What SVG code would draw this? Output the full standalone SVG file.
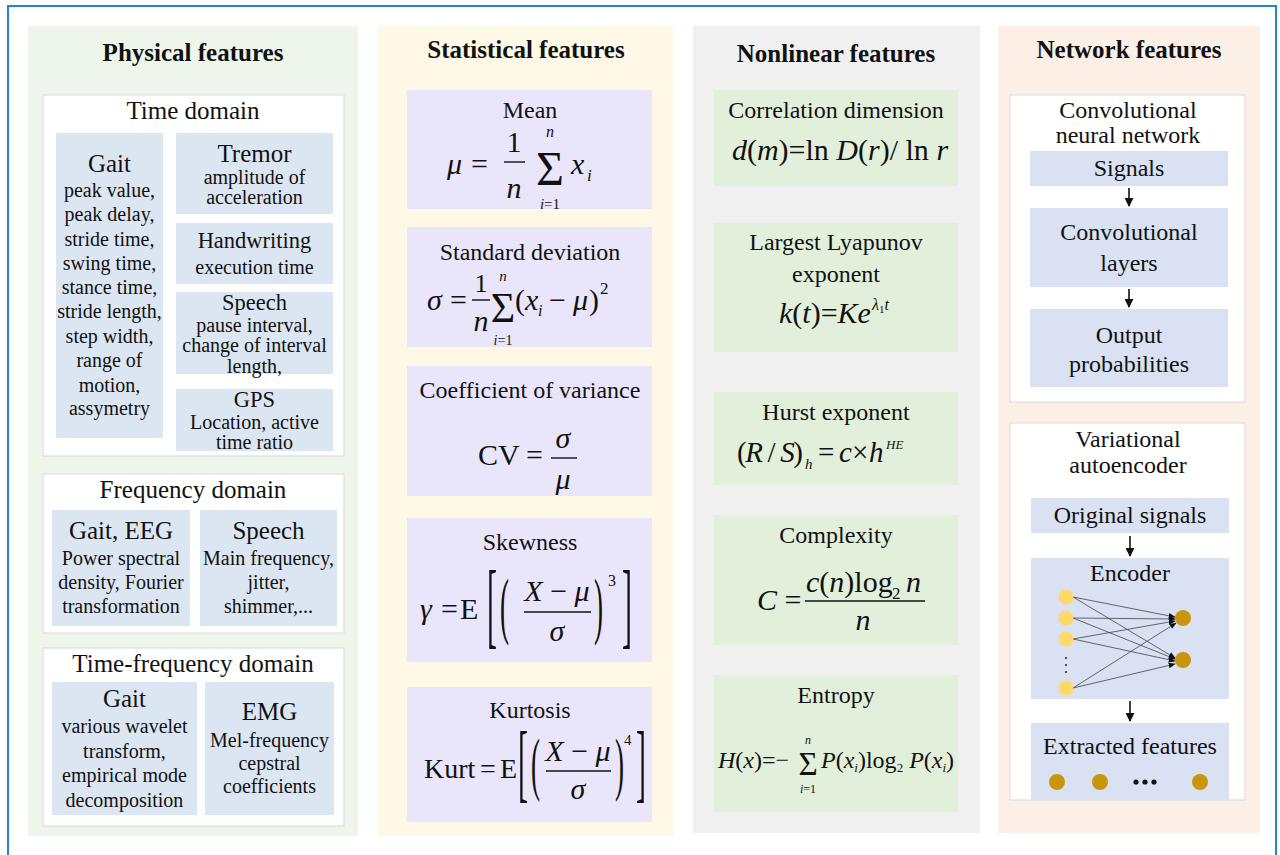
<svg xmlns="http://www.w3.org/2000/svg" width="1280" height="855" viewBox="0 0 1280 855">
<defs>
<style>
text{font-family:"Liberation Serif","Times New Roman",serif;fill:#111}
.t{font-size:25px;font-weight:bold;text-anchor:middle}
.h{font-size:25px;text-anchor:middle}
.s{font-size:22.5px;text-anchor:middle}
.b{font-size:20px;text-anchor:middle}
.l{font-size:24px;text-anchor:middle}
.m{font-size:30px}
.i{font-style:italic}
.wb{fill:#fff;stroke:#dedede;stroke-width:1.2}
.pb{fill:#dce6f2}
.sb{fill:#e9e5fb}
.nb{fill:#e2efda}
.kb{fill:#d9e1f2}
.bar{stroke:#111;stroke-width:1.4}
.ar{stroke:#111;stroke-width:1.6;fill:none}
.el{stroke:#444;stroke-width:0.8;fill:none}
.yn{fill:#ffd966}
.gn{fill:#c8960a}
</style>
<marker id="ah" viewBox="0 0 10 10" refX="9" refY="5" markerWidth="9" markerHeight="9" markerUnits="userSpaceOnUse" orient="auto"><path d="M0,0 L10,5 L0,10 z" fill="#111"/></marker>
<marker id="ah2" viewBox="0 0 10 10" refX="9" refY="5" markerWidth="7" markerHeight="7" markerUnits="userSpaceOnUse" orient="auto"><path d="M0,1 L10,5 L0,9 z" fill="#111"/></marker>
</defs>
<rect x="0" y="0" width="1280" height="855" fill="#fff"/>
<rect x="8" y="6" width="1268" height="880" fill="none" stroke="#1f8ac6" stroke-width="2"/>

<!-- Physical features -->
<g id="physical">
<rect x="28" y="26" width="330" height="810" fill="#eef5ea"/>
<text class="t" x="193" y="61">Physical features</text>
<g id="time-domain">
<rect class="wb" x="43" y="95" width="301" height="361"/>
<text class="h" x="193" y="119">Time domain</text>
<g id="td-gait">
<rect class="pb" x="56" y="133" width="107" height="305"/>
<text class="h" x="109.5" y="172">Gait</text>
<text class="b" x="109.5" y="197">peak value,</text>
<text class="b" x="109.5" y="221">peak delay,</text>
<text class="b" x="109.5" y="246">stride time,</text>
<text class="b" x="109.5" y="270">swing time,</text>
<text class="b" x="109.5" y="294">stance time,</text>
<text class="b" x="109.5" y="318">stride length,</text>
<text class="b" x="109.5" y="343">step width,</text>
<text class="b" x="109.5" y="367">range of</text>
<text class="b" x="109.5" y="392">motion,</text>
<text class="b" x="109.5" y="415">assymetry</text>
</g>
<g id="td-tremor">
<rect class="pb" x="176" y="133" width="157" height="81"/>
<text class="h" x="254.5" y="162">Tremor</text>
<text class="b" x="254.5" y="184">amplitude of</text>
<text class="b" x="254.5" y="204">acceleration</text>
</g>
<g id="td-handwriting">
<rect class="pb" x="176" y="223" width="157" height="61"/>
<text class="s" x="254.5" y="248">Handwriting</text>
<text class="b" x="254.5" y="274">execution time</text>
</g>
<g id="td-speech">
<rect class="pb" x="176" y="292" width="157" height="82"/>
<text class="s" x="254.5" y="310">Speech</text>
<text class="b" x="254.5" y="332">pause interval,</text>
<text class="b" x="254.5" y="352">change of interval</text>
<text class="b" x="254.5" y="373">length,</text>
</g>
<g id="td-gps">
<rect class="pb" x="176" y="389" width="157" height="62"/>
<text class="s" x="254.5" y="407">GPS</text>
<text class="b" x="254.5" y="429">Location, active</text>
<text class="b" x="254.5" y="449">time ratio</text>
</g>
</g>
<g id="frequency-domain">
<rect class="wb" x="43" y="474" width="301" height="159"/>
<text class="h" x="193" y="498">Frequency domain</text>
<g id="fd-gait-eeg">
<rect class="pb" x="52" y="510" width="138" height="116"/>
<text class="h" x="121" y="539">Gait, EEG</text>
<text class="b" x="121" y="565">Power spectral</text>
<text class="b" x="121" y="589">density, Fourier</text>
<text class="b" x="121" y="613">transformation</text>
</g>
<g id="fd-speech">
<rect class="pb" x="200" y="510" width="137" height="116"/>
<text class="h" x="268.5" y="539">Speech</text>
<text class="b" x="268.5" y="565">Main frequency,</text>
<text class="b" x="268.5" y="589">jitter,</text>
<text class="b" x="268.5" y="613">shimmer,...</text>
</g>
</g>
<g id="time-frequency-domain">
<rect class="wb" x="43" y="648" width="301" height="178"/>
<text class="h" x="193" y="672">Time-frequency domain</text>
<g id="tfd-gait">
<rect class="pb" x="52" y="682" width="145" height="133"/>
<text class="h" x="124.5" y="707">Gait</text>
<text class="b" x="124.5" y="733">various wavelet</text>
<text class="b" x="124.5" y="758">transform,</text>
<text class="b" x="124.5" y="782">empirical mode</text>
<text class="b" x="124.5" y="807">decomposition</text>
</g>
<g id="tfd-emg">
<rect class="pb" x="205" y="682" width="129" height="133"/>
<text class="h" x="269.5" y="720">EMG</text>
<text class="b" x="269.5" y="747">Mel-frequency</text>
<text class="b" x="269.5" y="770">cepstral</text>
<text class="b" x="269.5" y="793">coefficients</text>
</g>
</g>
</g>

<!-- Statistical features -->
<g id="statistical">
<rect x="378" y="26" width="295" height="810" fill="#fef9e6"/>
<text class="t" x="526" y="58">Statistical features</text>
<g id="mean">
<rect class="sb" x="407" y="90" width="245" height="119"/>
<text class="l" x="530" y="118">Mean</text>
<text class="m i" x="447" y="174" font-size="32">μ</text>
<text class="m" x="471" y="174">=</text>
<text class="m" x="514" y="152" font-size="28" text-anchor="middle">1</text>
<line class="bar" x1="504" y1="162" x2="525" y2="162"/>
<text class="m i" x="514" y="198" font-size="32" text-anchor="middle">n</text>
<text class="i" x="550" y="137" font-size="16" text-anchor="middle">n</text>
<text x="550" y="185" font-size="48" text-anchor="middle">Σ</text>
<text x="550" y="209" font-size="15" text-anchor="middle"><tspan class="i">i</tspan>=1</text>
<text class="m i" x="571" y="174" font-size="32">x</text>
<text class="i" x="587" y="181" font-size="17">i</text>
</g>
<g id="std">
<rect class="sb" x="407" y="227" width="245" height="120"/>
<text class="l" x="530" y="260">Standard deviation</text>
<text class="m i" x="427" y="310">σ</text>
<text class="m" x="450" y="310">=</text>
<text x="481" y="292" font-size="26" text-anchor="middle">1</text>
<line class="bar" x1="472" y1="300" x2="490" y2="300"/>
<text class="m i" x="481" y="331" text-anchor="middle">n</text>
<text class="i" x="503" y="281" font-size="15" text-anchor="middle">n</text>
<text x="503" y="322" font-size="42" text-anchor="middle">Σ</text>
<text x="503" y="345" font-size="14" text-anchor="middle"><tspan class="i">i</tspan>=1</text>
<text class="m" x="515" y="310">(<tspan class="i">x</tspan></text>
<text class="i" x="538" y="316" font-size="16">i</text>
<text class="m" x="549" y="310">−</text>
<text class="m i" x="573" y="310">μ</text>
<text class="m" x="589" y="310">)</text>
<text x="600" y="294" font-size="17">2</text>
</g>
<g id="cv">
<rect class="sb" x="407" y="366" width="245" height="130"/>
<text class="l" x="530" y="398">Coefficient of variance</text>
<text class="m" x="478" y="465">CV</text>
<text class="m" x="526" y="465">=</text>
<text class="m i" x="563" y="448" text-anchor="middle">σ</text>
<line class="bar" x1="551" y1="458" x2="577" y2="458"/>
<text class="m i" x="563" y="489" text-anchor="middle">μ</text>
</g>
<g id="skewness">
<rect class="sb" x="407" y="518" width="245" height="144"/>
<text class="l" x="530" y="550">Skewness</text>
<text class="m i" x="420" y="619">γ</text>
<text class="m" x="441" y="619">=</text>
<text class="m" x="460" y="619">E</text>
<text transform="translate(487,636) scale(1,3.2)" font-size="30">[</text>
<text transform="translate(500,630) scale(0.9,2.5)" font-size="30">(</text>
<text class="m" x="557" y="601" text-anchor="middle"><tspan class="i">X</tspan> − <tspan class="i">μ</tspan></text>
<line class="bar" x1="524" y1="612" x2="591" y2="612"/>
<text class="m i" x="557" y="641" text-anchor="middle">σ</text>
<text transform="translate(594,630) scale(0.9,2.5)" font-size="30">)</text>
<text x="608" y="586" font-size="16">3</text>
<text transform="translate(622,636) scale(1,3.2)" font-size="30">]</text>
</g>
<g id="kurtosis">
<rect class="sb" x="407" y="687" width="245" height="135"/>
<text class="l" x="530" y="718">Kurtosis</text>
<text x="424" y="778" font-size="28">Kurt</text>
<text x="480" y="778" font-size="28">=</text>
<text x="500" y="778" font-size="28">E</text>
<text transform="translate(518,791) scale(1,2.9)" font-size="30">[</text>
<text transform="translate(531,787) scale(0.9,2.3)" font-size="30">(</text>
<text class="m" x="578" y="761" text-anchor="middle"><tspan class="i">X</tspan> − <tspan class="i">μ</tspan></text>
<line class="bar" x1="546" y1="771" x2="611" y2="771"/>
<text class="m i" x="578" y="799" text-anchor="middle">σ</text>
<text transform="translate(615,787) scale(0.9,2.3)" font-size="30">)</text>
<text x="624" y="745" font-size="15">4</text>
<text transform="translate(636,791) scale(1,2.9)" font-size="30">]</text>
</g>
</g>

<!-- Nonlinear features -->
<g id="nonlinear">
<rect x="693" y="26" width="287" height="807" fill="#f0f0f0"/>
<text class="t" x="836" y="62">Nonlinear features</text>
<g id="correlation">
<rect class="nb" x="714" y="90" width="244" height="96"/>
<text class="l" x="836" y="118">Correlation dimension</text>
<text class="m" x="840" y="160" text-anchor="middle"><tspan class="i">d</tspan>(<tspan class="i">m</tspan>)=ln <tspan class="i">D</tspan>(<tspan class="i">r</tspan>)/ ln <tspan class="i">r</tspan></text>
</g>
<g id="lyapunov">
<rect class="nb" x="714" y="223" width="244" height="129"/>
<text class="l" x="836" y="250">Largest Lyapunov</text>
<text class="l" x="836" y="282">exponent</text>
<text class="m" x="779" y="323"><tspan class="i">k</tspan>(<tspan class="i">t</tspan>)=<tspan class="i">Ke</tspan></text>
<text x="872" y="310" font-size="16"><tspan class="i">λ</tspan><tspan font-size="11" dy="3">1</tspan><tspan class="i" dy="-3">t</tspan></text>
</g>
<g id="hurst">
<rect class="nb" x="714" y="392" width="244" height="93"/>
<text class="l" x="836" y="420">Hurst exponent</text>
<text x="737" y="462" font-size="29" textLength="66" lengthAdjust="spacing">(<tspan class="i">R</tspan> / <tspan class="i">S</tspan>)</text>
<text class="i" x="805" y="469" font-size="15">h</text>
<text x="818" y="462" font-size="29">=</text>
<text class="i" x="839" y="462" font-size="29">c</text>
<text x="852" y="462" font-size="29">×</text>
<text class="i" x="869" y="462" font-size="29">h</text>
<text class="i" x="886" y="449" font-size="13">HE</text>
</g>
<g id="complexity">
<rect class="nb" x="714" y="515" width="244" height="130"/>
<text class="l" x="836" y="543">Complexity</text>
<text class="m" x="757" y="610" font-size="32"><tspan class="i">C</tspan> =</text>
<text class="m" x="806" y="592"><tspan class="i">c</tspan>(<tspan class="i">n</tspan>)log</text>
<text x="892" y="599" font-size="17">2</text>
<text class="m i" x="906" y="592">n</text>
<line class="bar" x1="805" y1="601" x2="925" y2="601"/>
<text class="m i" x="863" y="630" text-anchor="middle">n</text>
</g>
<g id="entropy">
<rect class="nb" x="714" y="675" width="244" height="137"/>
<text class="l" x="836" y="703">Entropy</text>
<text x="718" y="768" font-size="24"><tspan class="i">H</tspan>(<tspan class="i">x</tspan>)=−</text>
<text class="i" x="808" y="744" font-size="12" text-anchor="middle">n</text>
<text x="808" y="775" font-size="33" text-anchor="middle">Σ</text>
<text x="808" y="793" font-size="12" text-anchor="middle"><tspan class="i">i</tspan>=1</text>
<text x="821" y="768" font-size="24"><tspan class="i">P</tspan>(<tspan class="i">x</tspan><tspan class="i" font-size="13" dy="4">i</tspan><tspan dy="-4">)log</tspan><tspan font-size="13" dy="4">2</tspan><tspan dy="-4"> </tspan><tspan class="i">P</tspan>(<tspan class="i">x</tspan><tspan class="i" font-size="13" dy="4">i</tspan><tspan dy="-4">)</tspan></text>
</g>
</g>

<!-- Network features -->
<g id="network">
<rect x="998" y="26" width="262" height="807" fill="#fcefe6"/>
<text class="t" x="1129" y="58">Network features</text>
<g id="cnn">
<rect class="wb" x="1010" y="95" width="235" height="307"/>
<text class="l" x="1128" y="118">Convolutional</text>
<text class="l" x="1128" y="143">neural network</text>
<g id="cnn-signals">
<rect class="kb" x="1030" y="151" width="198" height="35"/>
<text class="l" x="1129" y="176">Signals</text>
</g>
<g id="cnn-conv">
<rect class="kb" x="1030" y="208" width="198" height="79"/>
<text class="l" x="1129" y="240">Convolutional</text>
<text class="l" x="1129" y="271">layers</text>
</g>
<g id="cnn-output">
<rect class="kb" x="1030" y="309" width="198" height="78"/>
<text class="l" x="1129" y="343">Output</text>
<text class="l" x="1129" y="372">probabilities</text>
</g>
</g>
<g id="vae">
<rect class="wb" x="1010" y="423" width="235" height="377"/>
<text class="l" x="1128" y="447">Variational</text>
<text class="l" x="1128" y="473">autoencoder</text>
<g id="vae-original">
<rect class="kb" x="1031" y="498" width="198" height="35"/>
<text class="l" x="1130" y="523">Original signals</text>
</g>
<g id="vae-encoder">
<rect class="kb" x="1031" y="558" width="198" height="141"/>
<text class="l" x="1130" y="581">Encoder</text>
<g id="encoder-net">
<line class="el" x1="1073" y1="597" x2="1175" y2="617" marker-end="url(#ah2)"/>
<line class="el" x1="1073" y1="597" x2="1175" y2="658" marker-end="url(#ah2)"/>
<line class="el" x1="1073" y1="618" x2="1175" y2="619" marker-end="url(#ah2)"/>
<line class="el" x1="1073" y1="618" x2="1175" y2="659" marker-end="url(#ah2)"/>
<line class="el" x1="1073" y1="639" x2="1175" y2="621" marker-end="url(#ah2)"/>
<line class="el" x1="1073" y1="639" x2="1175" y2="661" marker-end="url(#ah2)"/>
<line class="el" x1="1073" y1="688" x2="1176" y2="623" marker-end="url(#ah2)"/>
<line class="el" x1="1073" y1="688" x2="1175" y2="664" marker-end="url(#ah2)"/>
<circle class="yn" cx="1066" cy="597" r="7.5"/>
<circle class="yn" cx="1066" cy="618" r="7.5"/>
<circle class="yn" cx="1066" cy="639" r="7.5"/>
<circle class="yn" cx="1066" cy="688" r="7.5"/>
<circle cx="1066" cy="658" r="1.1" fill="#333"/>
<circle cx="1066" cy="665" r="1.1" fill="#333"/>
<circle cx="1066" cy="672" r="1.1" fill="#333"/>
<circle class="gn" cx="1183" cy="618" r="8"/>
<circle class="gn" cx="1183" cy="660" r="8"/>
</g>
</g>
<g id="vae-extracted">
<rect class="kb" x="1031" y="723" width="198" height="77"/>
<text class="l" x="1130" y="754">Extracted features</text>
<circle class="gn" cx="1057" cy="782" r="8"/>
<circle class="gn" cx="1100" cy="782" r="8"/>
<circle cx="1136" cy="782" r="2.6" fill="#111"/>
<circle cx="1145" cy="782" r="2.6" fill="#111"/>
<circle cx="1154" cy="782" r="2.6" fill="#111"/>
<circle class="gn" cx="1200" cy="782" r="8"/>
</g>
</g>
</g>

<!-- Connectors -->
<g id="connectors">
<line class="ar" x1="1129" y1="188" x2="1129" y2="206" marker-end="url(#ah)"/>
<line class="ar" x1="1129" y1="289" x2="1129" y2="307" marker-end="url(#ah)"/>
<line class="ar" x1="1130" y1="536" x2="1130" y2="556" marker-end="url(#ah)"/>
<line class="ar" x1="1130" y1="701" x2="1130" y2="721" marker-end="url(#ah)"/>
</g>
</svg>
